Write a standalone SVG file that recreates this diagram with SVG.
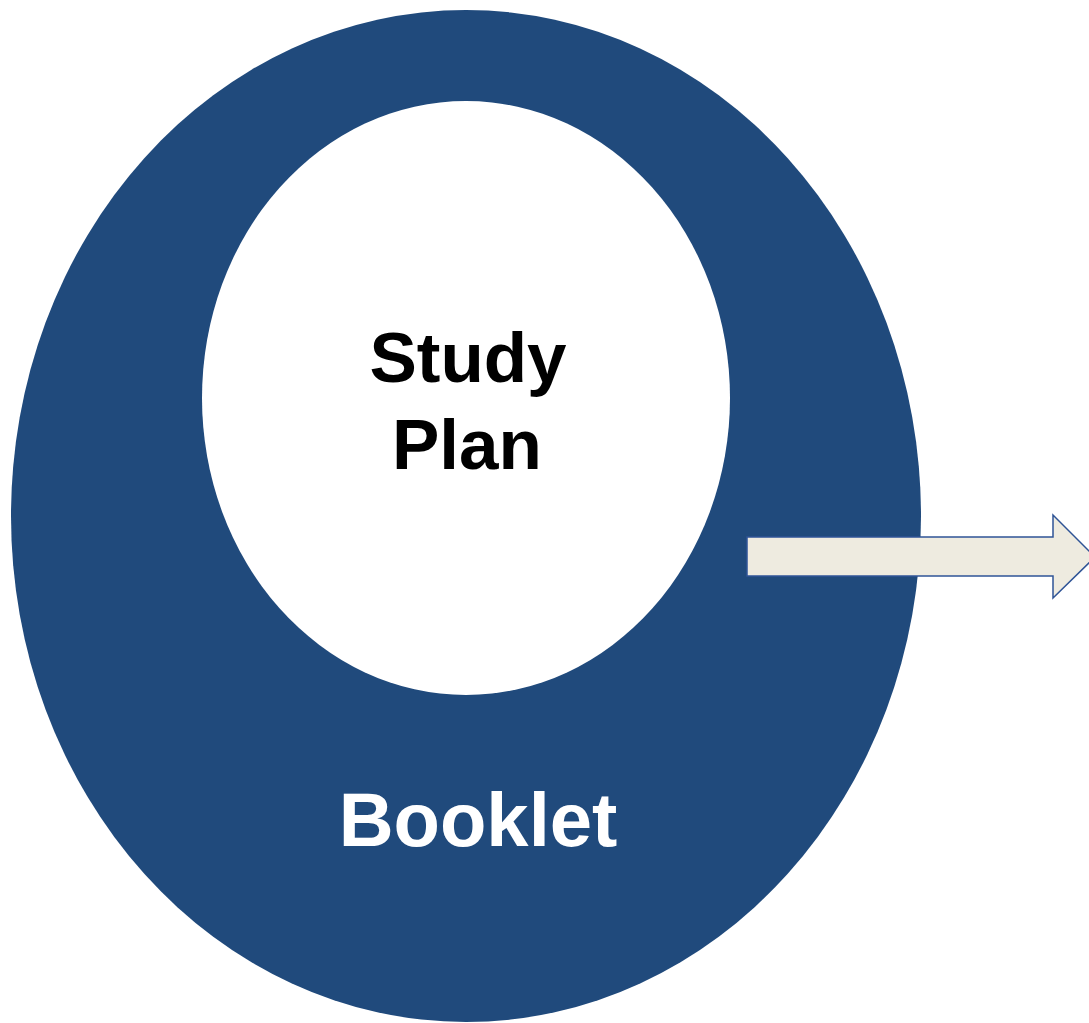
<svg xmlns="http://www.w3.org/2000/svg" width="1089" height="1023" viewBox="0 0 1089 1023">
<style>
.t{font-family:"Liberation Sans",Arial,sans-serif;font-weight:bold;text-anchor:middle}
</style>
<rect width="1089" height="1023" fill="#ffffff"/>
<g id="booklet">
<ellipse cx="466" cy="516" rx="455" ry="506" fill="#204A7C"/>
<text class="t" x="478" y="846" font-size="76" fill="#ffffff">Booklet</text>
</g>
<g id="study-plan">
<ellipse cx="466" cy="398" rx="264" ry="297" fill="#ffffff"/>
<text class="t" x="468" y="382" font-size="71" fill="#000000">Study</text>
<text class="t" x="467" y="469" font-size="71" fill="#000000">Plan</text>
</g>
<g id="connectors">
<path d="M747,537 H1053 V515 L1095,557 L1053,598 V576 H747 Z" fill="#EEEBE0" stroke="#2F5496" stroke-width="1.5"/>
</g>
</svg>
